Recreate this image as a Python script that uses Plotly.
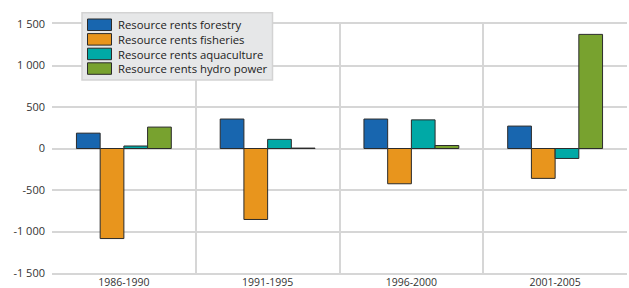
import plotly.graph_objects as go

categories = ["1986-1990", "1991-1995", "1996-2000", "2001-2005"]
forestry = [185, 355, 355, 270]
fisheries = [-1085, -855, -425, -360]
aquaculture = [30, 110, 345, -120]
hydro = [258, 5, 36, 1375]

series_names = ["Resource rents forestry", "Resource rents fisheries",
                "Resource rents aquaculture", "Resource rents hydro power"]
series_values = [forestry, fisheries, aquaculture, hydro]
colors = ["#1866AF", "#E8951D", "#00A9A6", "#78A22F"]

y_tickvals = [-1500, -1000, -500, 0, 500, 1000, 1500]
y_ticktext = ["-1 500", "-1 000", "-500", "0", "500", "1 000", "1 500"]

W, H = 629, 288
ML, MR, MT, MB = 52, 2, 24, 15
PW, PH = W - ML - MR, H - MT - MB


def px(xp):
    return (xp - ML) / PW


def py(yp):
    return (H - MB - yp) / PH


fig = go.Figure()
for name, vals, col in zip(series_names, series_values, colors):
    fig.add_trace(go.Bar(x=categories, y=vals, name=name, showlegend=False,
                         marker=dict(color=col, line=dict(color="#2b2b2b", width=1))))

# custom legend box
shapes = [dict(type="rect", xref="paper", yref="paper",
               x0=px(82), x1=px(272.5), y0=py(80), y1=py(12.7),
               fillcolor="#E6E7E8", line=dict(color="#D3D3D3", width=1.5), layer="above")]
annotations = []
for i, (name, col) in enumerate(zip(series_names, colors)):
    top = 19 + i * 14.6
    shapes.append(dict(type="rect", xref="paper", yref="paper",
                       x0=px(87.5), x1=px(111.5), y0=py(top + 11.5), y1=py(top),
                       fillcolor=col, line=dict(color="#2b2b2b", width=1), layer="above"))
    annotations.append(dict(xref="paper", yref="paper", x=px(116), y=py(top + 5.9),
                            xanchor="left", yanchor="middle", showarrow=False,
                            text=name, font=dict(size=11.3, color="#222222")))

fig.update_layout(
    width=W, height=H,
    margin=dict(l=ML, r=MR, t=MT, b=MB, autoexpand=False),
    paper_bgcolor="white", plot_bgcolor="white",
    barmode="group", bargap=0.34, bargroupgap=0,
    font=dict(family="Open Sans, sans-serif", size=10.5, color="#333333"),
    shapes=shapes, annotations=annotations,
    xaxis=dict(type="category", range=[-0.5, 3.5], tickson="boundaries",
               showgrid=True, gridcolor="#D6D6D6", gridwidth=2,
               showline=True, linecolor="#D6D6D6", linewidth=2, mirror=True,
               ticks="", ticklen=0, zeroline=False, ticklabelstandoff=-2,
               automargin=False, tickfont=dict(size=10.5)),
    yaxis=dict(range=[-1500, 1500], tickvals=y_tickvals, ticktext=y_ticktext,
               showgrid=True, gridcolor="#D6D6D6", gridwidth=2,
               zeroline=True, zerolinecolor="#D6D6D6", zerolinewidth=2,
               showline=False, ticks="", ticklabelstandoff=6,
               automargin=False, tickfont=dict(size=11)),
)

fig.write_html("out.html", config={"displayModeBar": False},
               post_script="document.body.style.margin='0';")
